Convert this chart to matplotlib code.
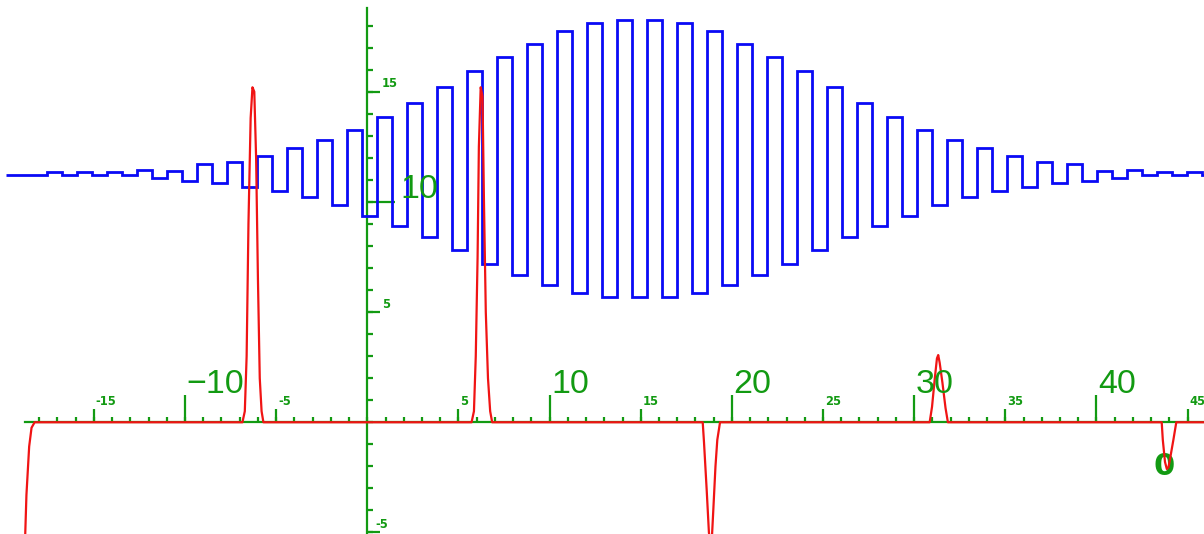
import numpy as np
import matplotlib
matplotlib.use("Agg")
import matplotlib.pyplot as plt

# ---------------- data ----------------
# blue step curve: edges (x) and levels (y) of each step
blue_edges = [-19.82,
              -18.41, -17.59, -16.76, -15.94, -15.12, -14.30, -13.47, -12.65, -11.83, -11.00,
              -10.18, -9.36, -8.54, -7.71, -6.89, -6.07, -5.25, -4.42, -3.60, -2.78,
              -1.95, -1.13, -0.31, 0.51, 1.34, 2.16, 2.98, 3.81, 4.63, 5.45,
              6.27, 7.10, 7.92, 8.74, 9.57, 10.39, 11.21, 12.03, 12.86, 13.68,
              14.50, 15.32, 16.15, 16.97, 17.79, 18.62, 19.44, 20.26, 21.08, 21.91,
              22.73, 23.55, 24.38, 25.20, 26.02, 26.84, 27.67, 28.49, 29.31, 30.14,
              30.96, 31.78, 32.60, 33.43, 34.25, 35.07, 35.89, 36.72, 37.54, 38.36,
              39.19, 40.01, 40.83, 41.65, 42.48, 43.30, 44.12, 44.95, 45.77, 46.59]
blue_levels = [11.23,
               11.23, 11.34, 11.22, 11.36, 11.21, 11.37, 11.21, 11.45, 11.07, 11.42,
               10.96, 11.71, 10.84, 11.82, 10.69, 12.08, 10.49, 12.43, 10.22, 12.79,
               9.88, 13.28, 9.36, 13.85, 8.91, 14.49, 8.41, 15.21, 7.82, 15.94,
               7.19, 16.58, 6.69, 17.16, 6.23, 17.75, 5.87, 18.12, 5.69, 18.25,
               5.69, 18.25, 5.69, 18.12, 5.87, 17.75, 6.23, 17.16, 6.69, 16.58,
               7.19, 15.94, 7.82, 15.21, 8.41, 14.49, 8.91, 13.85, 9.36, 13.28,
               9.88, 12.79, 10.22, 12.43, 10.49, 12.08, 10.69, 11.82, 10.84, 11.71,
               10.96, 11.42, 11.07, 11.45, 11.21, 11.37, 11.21, 11.36, 11.22]

# red spike curve
red_x = [-18.80, -18.70, -18.55, -18.42, -18.25,
         -6.85, -6.72, -6.62, -6.52, -6.40, -6.30, -6.20, -6.10, -6.00, -5.90, -5.80, -5.70,
         5.72, 5.85, 5.95, 6.05, 6.12, 6.22, 6.32, 6.40, 6.50, 6.62, 6.74, 6.85,
         18.40, 18.47, 18.62, 18.74, 18.83, 18.90, 18.98, 19.10, 19.20, 19.35,
         30.85, 30.98, 31.12, 31.25, 31.32, 31.40, 31.55, 31.72, 31.85,
         43.58, 43.64, 43.76, 43.86, 43.95, 44.05, 44.22, 44.38,
         45.95]
red_y = [-6.0, -3.3, -1.1, -0.25, 0.0,
         0.0, 0.5, 3.0, 9.0, 13.8, 15.2, 15.0, 12.0, 6.5, 2.0, 0.5, 0.0,
         0.0, 0.5, 3.0, 7.5, 12.5, 15.2, 14.8, 10.0, 5.0, 2.0, 0.5, 0.0,
         0.0, -0.9, -3.1, -5.0, -5.6, -5.3, -4.0, -2.0, -0.8, 0.0,
         0.0, 0.7, 1.9, 2.9, 3.05, 2.7, 1.8, 0.65, 0.0,
         0.0, -0.8, -1.8, -2.12, -2.05, -1.6, -0.8, 0.0,
         0.0]

# axes ticks and labels
x_ticks_major = [-10, 10, 20, 30, 40]
x_labels_major = ["\u221210", "10", "20", "30", "40"]
x_ticks_mid = [-15, -5, 5, 15, 25, 35, 45]
x_labels_mid = ["-15", "-5", "5", "15", "25", "35", "45"]
x_ticks_minor = list(range(-18, 46))
y_ticks_major = [10]
y_labels_major = ["10"]
y_ticks_mid = [-5, 5, 15]
y_labels_mid = ["-5", "5", "15"]
y_ticks_minor = list(range(-5, 19))
stray_label = "0"
stray_label_pos = (43.12, -2.39)

# ---------------- style ----------------
GREEN = "#129a12"
BLUE = "#0a0af5"
RED = "#f01414"
X_MIN, X_MAX = -20.15, 45.90
Y_MIN, Y_MAX = -5.07, 19.16

fig = plt.figure(figsize=(12.04, 5.34), dpi=100)
ax = fig.add_axes([0, 0, 1, 1])
ax.set_xlim(X_MIN, X_MAX)
ax.set_ylim(Y_MIN, Y_MAX)
ax.axis("off")

# axes lines
ax.plot([-18.78, X_MAX], [0, 0], color=GREEN, lw=1.6, zorder=1)
ax.plot([0, 0], [Y_MIN - 1, 18.8], color=GREEN, lw=1.6, zorder=1)

# x ticks (upwards) lengths in y-units
ax.vlines(x_ticks_minor, 0, 0.26, color=GREEN, lw=1.6, zorder=1)
ax.vlines(x_ticks_mid, 0, 0.59, color=GREEN, lw=1.6, zorder=1)
ax.vlines(x_ticks_major, 0, 1.22, color=GREEN, lw=1.6, zorder=1)
# y ticks (rightwards) lengths in x-units
ax.hlines(y_ticks_minor, 0, 0.33, color=GREEN, lw=1.6, zorder=1)
ax.hlines(y_ticks_mid, 0, 0.71, color=GREEN, lw=1.6, zorder=1)
ax.hlines(y_ticks_major, 0, 1.54, color=GREEN, lw=1.6, zorder=1)

big_font = dict(family=["Liberation Sans Narrow", "Liberation Sans", "DejaVu Sans"],
                fontsize=24.5, color=GREEN)
small_font = dict(family="DejaVu Sans", fontweight="bold", fontsize=8.3, color=GREEN)

for t, s in zip(x_ticks_major, x_labels_major):
    ax.text(t + 0.1, 1.35, s, ha="left", va="baseline", zorder=4, **big_font)
for t, s in zip(x_ticks_mid, x_labels_mid):
    ax.text(t + 0.1, 0.78, s, ha="left", va="baseline", zorder=4, **small_font)
for t, s in zip(y_ticks_major, y_labels_major):
    ax.text(1.79, t + 0.16, s, ha="left", va="baseline", zorder=4, **big_font)
for t, s in zip(y_ticks_mid, y_labels_mid):
    ax.text(0.79 if t > 0 else 0.45, t + 0.2, s, ha="left", va="baseline", zorder=4, **small_font)
ax.text(stray_label_pos[0], stray_label_pos[1], stray_label, ha="left", va="baseline",
        zorder=1.5, family="DejaVu Sans", fontweight="bold", fontsize=22, color=GREEN)

# curves
ax.stairs(blue_levels, blue_edges, color=BLUE, lw=2.0, zorder=2, baseline=None)
ax.plot(red_x, red_y, color=RED, lw=1.6, zorder=3)

fig.savefig("out.png", dpi=100)
